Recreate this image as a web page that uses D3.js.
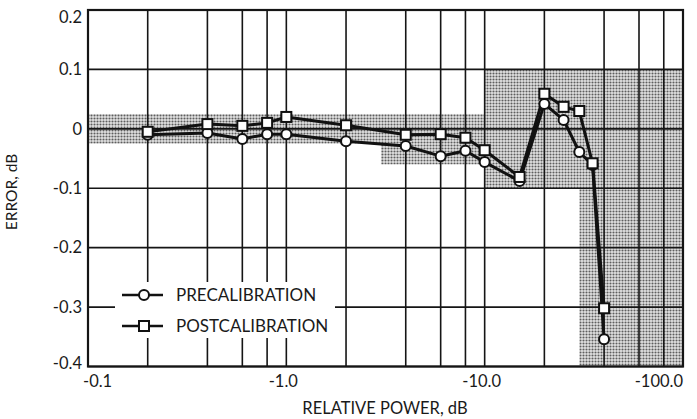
<!DOCTYPE html>
<html><head><meta charset="utf-8">
<script src="https://cdn.jsdelivr.net/npm/d3@7"></script>
<style>html,body{margin:0;padding:0;background:#fff}svg{display:block}</style>
</head><body><svg id="c" width="697" height="419"></svg>
<script>
// ---- data ----
const powerDb = [0.2, 0.4, 0.6, 0.8, 1, 2, 4, 6, 8, 10, 15, 20, 25, 30, 35, 40];
const preCal  = [-0.010, -0.007, -0.017, -0.009, -0.009, -0.021, -0.029, -0.046, -0.037, -0.056, -0.088, 0.042, 0.015, -0.039, -0.061, -0.354];
const postCal = [-0.005, 0.008, 0.005, 0.010, 0.020, 0.006, -0.010, -0.009, -0.015, -0.036, -0.081, 0.059, 0.037, 0.030, -0.058, -0.302];
const xGrid = [0.2, 0.4, 0.6, 0.8, 1, 2, 4, 6, 8, 10, 20, 40, 60, 80];
const xTicks = [0.1, 1, 10, 100];
const xTickLabels = ["-0.1", "-1.0", "-10.0", "-100.0"];
const yTicks = [0.2, 0.1, 0, -0.1, -0.2, -0.3, -0.4];
const yTickLabels = ["0.2", "0.1", "0", "-0.1", "-0.2", "-0.3", "-0.4"];
// tolerance (shaded) regions: [xFrom, xTo, yTop, yBottom]
const tolX0 = [0.1, 3, 10, 30];
const tolX1 = [10, 10, 100, 100];
const tolY0 = [0.025, 0.025, 0.1, -0.1];
const tolY1 = [-0.025, -0.06, -0.1, -0.4];
const seriesNames = ["PRECALIBRATION", "POSTCALIBRATION"];

const svg = d3.select("#c");
const L = 88, R = 683, T = 10, B = 366.5;
const x = d3.scaleLog().domain([0.1, 100]).range([L, R]);
const y = d3.scaleLinear().domain([0.2, -0.4]).range([T, B]);
const font = "Lato, 'DejaVu Sans', sans-serif";

const defs = svg.append("defs");
const pat = defs.append("pattern").attr("id", "stip").attr("patternUnits", "userSpaceOnUse")
  .attr("width", 3).attr("height", 3);
pat.append("rect").attr("width", 3).attr("height", 3).attr("fill", "#e2e2e2");
pat.append("circle").attr("cx", 1.5).attr("cy", 1.5).attr("r", 1.05).attr("fill", "#5e5e5e");

// shaded regions
svg.append("g").selectAll("rect").data(tolX0.map((d, i) => i)).join("rect")
  .attr("x", i => x(tolX0[i])).attr("width", i => x(tolX1[i]) - x(tolX0[i]))
  .attr("y", i => y(tolY0[i])).attr("height", i => y(tolY1[i]) - y(tolY0[i]))
  .attr("fill", "url(#stip)");

// grid
const grid = svg.append("g").attr("stroke", "#151515").attr("stroke-width", 1.6);
grid.selectAll("line.v").data(xGrid).join("line").attr("class", "v")
  .attr("x1", d => x(d)).attr("x2", d => x(d)).attr("y1", T).attr("y2", B);
grid.selectAll("line.h").data(yTicks).join("line").attr("class", "h")
  .attr("x1", L).attr("x2", R).attr("y1", d => y(d)).attr("y2", d => y(d));

// legend box covering grid
svg.append("rect").attr("x", 115).attr("y", 282).attr("width", 220).attr("height", 56).attr("fill", "#fff");

// frame
svg.append("rect").attr("x", L).attr("y", T).attr("width", R - L).attr("height", B - T)
  .attr("fill", "none").attr("stroke", "#151515").attr("stroke-width", 2.2);

// series lines
const line = d3.line().x(d => x(d[0])).y(d => y(d[1]));
const preData = powerDb.map((p, i) => [p, preCal[i]]);
const postData = powerDb.map((p, i) => [p, postCal[i]]);
svg.append("path").datum(preData).attr("d", line).attr("fill", "none")
  .attr("stroke", "#111").attr("stroke-width", 3).attr("stroke-linejoin", "round");
svg.append("path").datum(postData).attr("d", line).attr("fill", "none")
  .attr("stroke", "#111").attr("stroke-width", 3).attr("stroke-linejoin", "round");

const circ = g => g.attr("r", 5).attr("fill", "#fff").attr("stroke", "#111").attr("stroke-width", 2);
const sq = g => g.attr("width", 10).attr("height", 10).attr("fill", "#fff").attr("stroke", "#111").attr("stroke-width", 2);
svg.append("g").selectAll("circle").data(preData).join("circle")
  .attr("cx", d => x(d[0])).attr("cy", d => y(d[1])).call(circ);
svg.append("g").selectAll("rect").data(postData).join("rect")
  .attr("x", d => x(d[0]) - 5).attr("y", d => y(d[1]) - 5).call(sq);

// axis tick labels
const tl = svg.append("g").attr("font-family", font).attr("font-size", 16.5).attr("fill", "#1a1a1a");
tl.selectAll("text.y").data(yTicks).join("text").attr("class", "y")
  .attr("x", 82).attr("y", (d, i) => y(d) + (i === 0 ? 7 : i === yTicks.length - 1 ? -3 : 0))
  .attr("dy", "0.35em").attr("text-anchor", "end").text((d, i) => yTickLabels[i]);
tl.selectAll("text.x").data(xTicks).join("text").attr("class", "x")
  .attr("x", (d, i) => x(d) + (i === 0 ? -5 : i === xTicks.length - 1 ? 0 : -3))
  .attr("y", 387)
  .attr("text-anchor", (d, i) => i === 0 ? "start" : i === xTicks.length - 1 ? "end" : "middle")
  .text((d, i) => xTickLabels[i]);

// axis titles
svg.append("text").attr("x", 385).attr("y", 414).attr("text-anchor", "middle")
  .attr("font-family", font).attr("font-size", 16.5).attr("fill", "#1a1a1a").text("RELATIVE POWER, dB");
svg.append("text").attr("transform", "translate(17,192) rotate(-90)").attr("text-anchor", "middle")
  .attr("font-family", font).attr("font-size", 15.5).attr("fill", "#1a1a1a").text("ERROR, dB");

// legend
const lg = svg.append("g");
[0, 1].forEach(i => {
  const ly = 295 + i * 31;
  lg.append("line").attr("x1", 122).attr("x2", 163).attr("y1", ly).attr("y2", ly)
    .attr("stroke", "#111").attr("stroke-width", 2.5);
  if (i === 0) lg.append("circle").attr("cx", 144).attr("cy", ly).call(circ);
  else lg.append("rect").attr("x", 139).attr("y", ly - 5).call(sq);
  lg.append("text").attr("x", 176).attr("y", ly).attr("dy", "0.35em")
    .attr("font-family", font).attr("font-size", 17).attr("fill", "#1a1a1a").text(seriesNames[i]);
});
</script></body></html>
